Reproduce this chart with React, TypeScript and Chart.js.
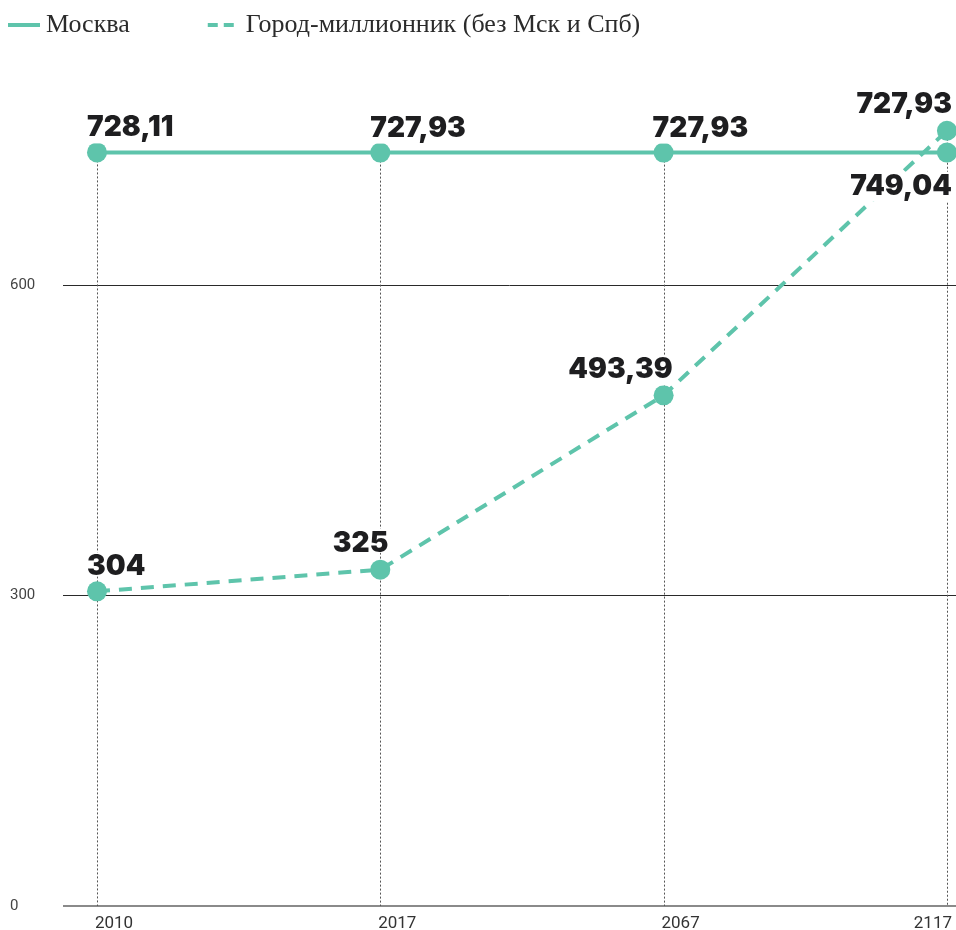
import React, { useEffect, useRef } from "react";
import { Chart, registerables } from "chart.js";

Chart.register(...registerables);

// ---- data ----
const categories = ["2010", "2017", "2067", "2117"];
const moscowValues = [728.11, 727.93, 727.93, 727.93];
const millionValues = [304, 325, 493.39, 749.04];
const yTickValues = [0, 300, 600];
const seriesNames = ["Москва", "Город-миллионник (без Мск и Спб)"];

// ---- styles ----
const TEAL = "#5ec4ab";
const LABEL_FONT = "900 28px Inter";
const LEGEND_FONT = "26px 'Liberation Serif'";
const XTICK_FONT = "17px Roboto";

// label placement per series / per point (relative to point pixel)
type Place = { align: "left" | "right"; dx: number; dy: number };
const moscowPlacement: Place[] = [
  { align: "left", dx: -10, dy: -16 },
  { align: "left", dx: -10, dy: -16 },
  { align: "left", dx: -11, dy: -16 },
  { align: "right", dx: 5, dy: -40 },
];
const millionPlacement: Place[] = [
  { align: "left", dx: -10, dy: -16 },
  { align: "right", dx: 8, dy: -18 },
  { align: "right", dx: 9, dy: -17 },
  { align: "right", dx: 5, dy: 64 },
];
const placements = [moscowPlacement, millionPlacement];
const legendDashes: number[][] = [[], [10, 6]];

const fmt = (v: number) => String(v).replace(".", ",");

const dropLinePlugin = {
  id: "dropLines",
  beforeDatasetsDraw(chart: any) {
    const { ctx, scales } = chart;
    const xs = scales.x;
    const ys = scales.y;
    ctx.save();
    ctx.strokeStyle = "#555";
    ctx.lineWidth = 1;
    ctx.setLineDash([2, 2]);
    categories.forEach((_, i) => {
      const top = Math.min(
        ...chart.data.datasets.map((ds: any) => ys.getPixelForValue(ds.data[i].y))
      );
      const x = Math.round(xs.getPixelForValue(i)) + 0.5;
      ctx.beginPath();
      ctx.moveTo(x, top);
      ctx.lineTo(x, ys.getPixelForValue(0));
      ctx.stroke();
    });
    ctx.restore();
  },
};

const valueLabelPlugin = {
  id: "valueLabels",
  afterDatasetsDraw(chart: any) {
    const ctx = chart.ctx;
    ctx.save();
    ctx.font = LABEL_FONT;
    ctx.textBaseline = "alphabetic";
    ctx.textAlign = "left";
    chart.data.datasets.forEach((ds: any, di: number) => {
      const meta = chart.getDatasetMeta(di);
      meta.data.forEach((pt: any, i: number) => {
        const place = placements[di][i];
        const text = fmt(ds.data[i].y);
        const m = ctx.measureText(text);
        const w = m.width;
        const anchor = pt.x + place.dx;
        let left = place.align === "left" ? anchor : anchor - w;
        if (left + w > chart.width - 4) left = chart.width - 4 - w;
        const y = pt.y + place.dy;
        ctx.fillStyle = "#ffffff";
        ctx.fillRect(
          left - 2,
          y - m.actualBoundingBoxAscent - 2,
          w + 4,
          m.actualBoundingBoxAscent + m.actualBoundingBoxDescent + 3
        );
        ctx.fillStyle = "#1e1e20";
        ctx.fillText(text, left, y);
      });
    });
    ctx.restore();
  },
};

const xLabelPlugin = {
  id: "xLabels",
  afterDraw(chart: any) {
    const { ctx, scales } = chart;
    const xs = scales.x;
    ctx.save();
    ctx.font = XTICK_FONT;
    ctx.fillStyle = "#333";
    ctx.textAlign = "left";
    ctx.textBaseline = "alphabetic";
    categories.forEach((c, i) => {
      const w = ctx.measureText(c).width;
      let left = xs.getPixelForValue(i) + 17 - w / 2;
      if (left + w > chart.width - 4) left = chart.width - 4 - w;
      ctx.fillText(c, left, 928);
    });
    ctx.restore();
  },
};

const legendPlugin = {
  id: "lineLegend",
  afterDraw(chart: any) {
    const ctx = chart.ctx;
    ctx.save();
    ctx.font = LEGEND_FONT;
    ctx.textBaseline = "middle";
    ctx.textAlign = "left";
    let x = 8;
    const y = 25;
    chart.data.datasets.forEach((ds: any, i: number) => {
      ctx.strokeStyle = ds.borderColor;
      ctx.lineWidth = 4;
      ctx.lineCap = "butt";
      ctx.setLineDash(legendDashes[i]);
      ctx.beginPath();
      ctx.moveTo(x, y);
      ctx.lineTo(x + 32, y);
      ctx.stroke();
      ctx.setLineDash([]);
      ctx.fillStyle = "#2b2b2b";
      ctx.fillText(ds.label, x + 38, y);
      x += 38 + ctx.measureText(ds.label).width + 78;
    });
    ctx.restore();
  },
};

export default function App() {
  const canvasRef = useRef<HTMLCanvasElement | null>(null);

  useEffect(() => {
    let chart: Chart | null = null;
    let cancelled = false;
    const build = () => {
      if (cancelled || !canvasRef.current) return;
      chart = new Chart(canvasRef.current, {
        type: "line",
        data: {
          datasets: [
            {
              label: seriesNames[0],
              data: categories.map((_, i) => ({ x: i, y: moscowValues[i] })),
              borderColor: TEAL,
              backgroundColor: TEAL,
              borderWidth: 4,
              pointRadius: 10,
              pointHoverRadius: 10,
              pointBackgroundColor: TEAL,
              pointBorderWidth: 0,
              tension: 0,
              fill: false,
              clip: false,
            },
            {
              label: seriesNames[1],
              data: categories.map((_, i) => ({ x: i, y: millionValues[i] })),
              borderColor: TEAL,
              backgroundColor: TEAL,
              borderWidth: 4,
              borderDash: [13, 9],
              pointRadius: 10,
              pointHoverRadius: 10,
              pointBackgroundColor: TEAL,
              pointBorderWidth: 0,
              tension: 0,
              fill: false,
              clip: false,
            },
          ],
        },
        options: {
          animation: false,
          responsive: false,
          devicePixelRatio: 1,
          events: [],
          layout: { autoPadding: false, padding: { left: 10, top: 78, right: 0, bottom: 0 } },
          plugins: {
            legend: { display: false },
            tooltip: { enabled: false },
          },
          scales: {
            x: {
              type: "linear",
              min: -0.12,
              max: 3.032,
              grid: { display: false },
              border: { display: false },
              ticks: { display: false, stepSize: 1 },
              afterFit(s: any) {
                s.height = 24;
              },
            },
            y: {
              type: "linear",
              min: 0,
              max: 800,
              afterBuildTicks(s: any) {
                s.ticks = yTickValues.map((v) => ({ value: v }));
              },
              ticks: {
                crossAlign: "far",
                padding: 0,
                color: "#444",
                font: { family: "Roboto", size: 15 },
              },
              grid: {
                drawTicks: false,
                color: (c: any) => (c.tick && c.tick.value === 0 ? "#8a8a8a" : "#2a2a2a"),
                lineWidth: (c: any) => (c.tick && c.tick.value === 0 ? 2 : 1),
              },
              border: { display: false },
              afterFit(s: any) {
                s.width = 53;
              },
            },
          },
        },
        plugins: [dropLinePlugin, valueLabelPlugin, xLabelPlugin, legendPlugin],
      } as any);
    };
    const fonts = (document as any).fonts;
    if (fonts && fonts.load) {
      Promise.all([
        fonts.load(LABEL_FONT, "0123456789,"),
        fonts.load(LEGEND_FONT, "Москва"),
        fonts.load(XTICK_FONT, "2010"),
        fonts.load("15px Roboto", "0"),
      ])
        .catch(() => {})
        .then(build);
    } else {
      build();
    }
    return () => {
      cancelled = true;
      if (chart) chart.destroy();
    };
  }, []);

  return (
    <div style={{ position: "fixed", left: 0, top: 0, width: 956, height: 930, background: "#fff" }}>
      <canvas ref={canvasRef} width={956} height={930} style={{ display: "block", width: 956, height: 930 }} />
    </div>
  );
}
